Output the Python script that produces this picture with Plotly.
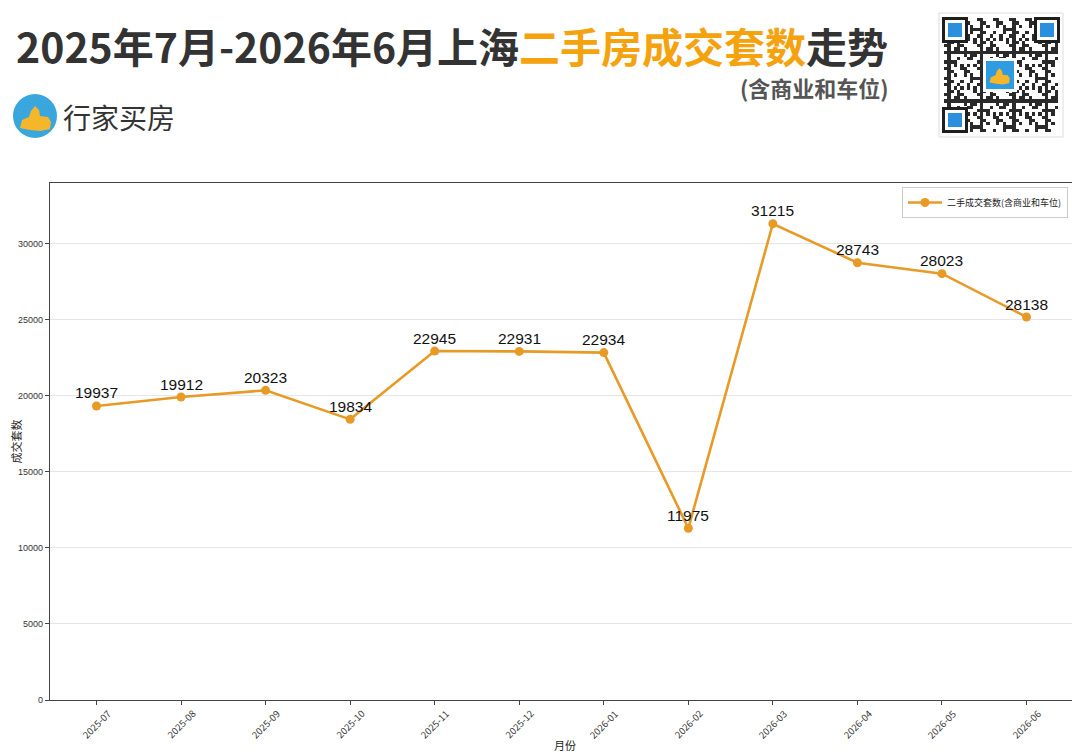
import plotly.graph_objects as go

# page has an 8px body margin: figure is drawn from (8, 8)
OFF = 8
FW, FH = 1072, 746

months = ["2025-07", "2025-08", "2025-09", "2025-10", "2025-11", "2025-12",
          "2026-01", "2026-02", "2026-03", "2026-04", "2026-05", "2026-06"]
values = [19330, 19920, 20360, 18450, 22940, 22920, 22840, 11290, 31310, 28750, 28030, 25180]
labels = ["19937", "19912", "20323", "19834", "22945", "22931", "22934", "11975",
          "31215", "28743", "28023", "28138"]
y_ticks = [0, 5000, 10000, 15000, 20000, 25000, 30000]

series_name = "二手成交套数(含商业和车位)"
LINE = "#E89A26"
CJK = "Noto Sans CJK SC"

# plot area in page pixels (reference coordinates)
PL, PR, PT, PB = 50, 1073, 183, 700


def px(x):
    return (x - OFF) / FW


def py(y):
    return 1 - (y - OFF) / FH


fig = go.Figure()

fig.add_trace(go.Scatter(
    x=list(range(len(months))), y=values,
    mode="lines+markers", name=series_name,
    line=dict(color=LINE, width=2.6),
    marker=dict(color=LINE, size=9),
    xaxis="x", yaxis="y",
))

# decorative QR-like block
n = 35
qr = [[1 if ((i * 7 + j * 11 + i * j * 3 + (i // 3) * (j // 2)) % 5 < 2) else 0 for j in range(n)]
      for i in range(n)]
fig.add_trace(go.Heatmap(
    z=qr, colorscale=[[0, "#ffffff"], [1, "#2a2a2a"]], showscale=False,
    xaxis="x3", yaxis="y3", hoverinfo="skip",
))

fig.update_layout(
    width=FW, height=FH,
    margin=dict(l=0, r=0, t=0, b=0, pad=0),
    paper_bgcolor="white", plot_bgcolor="white",
    showlegend=True,
    legend=dict(x=px(1068), y=py(187), xanchor="right", yanchor="top",
                bgcolor="white", bordercolor="#cccccc", borderwidth=1,
                font=dict(family=CJK, size=9, color="#222"), itemwidth=34),
    xaxis=dict(domain=[px(PL), px(PR)], range=[-0.55, 11.55],
               tickvals=list(range(len(months))), showticklabels=False,
               ticks="outside", ticklen=4, tickcolor="#444",
               showgrid=False, zeroline=False,
               showline=True, linecolor="#444", linewidth=1.3, mirror=True,
               anchor="y", automargin=False),
    yaxis=dict(domain=[py(PB), py(PT)], range=[0, 33990],
               tickvals=y_ticks, tickformat="d",
               tickfont=dict(family="Liberation Sans, Arial", size=9, color="#333"),
               ticks="outside", ticklen=4, tickcolor="#444",
               showgrid=True, gridcolor="#e6e6e6", gridwidth=1, zeroline=False,
               showline=True, linecolor="#444", linewidth=1.3, mirror=True,
               title=dict(text="成交套数", font=dict(family=CJK, size=11, color="#222"), standoff=6),
               anchor="x", automargin=False),
    xaxis3=dict(domain=[px(944), px(1058)], range=[-0.5, n - 0.5], visible=False,
                fixedrange=True, anchor="y3"),
    yaxis3=dict(domain=[py(132), py(18)], range=[n - 0.5, -0.5], visible=False,
                fixedrange=True, anchor="x3"),
)

anns = []
# data labels above the points
for i, (v, t) in enumerate(zip(values, labels)):
    anns.append(dict(x=i, y=v, xref="x", yref="y", text=t, showarrow=False,
                     yshift=13, xanchor="center", yanchor="middle",
                     font=dict(family="Liberation Sans, Arial", size=15.5, color="#111")))
# rotated month tick labels, centred under each tick
for i, m in enumerate(months):
    anns.append(dict(x=i, xref="x", y=py(724), yref="paper", text=m, showarrow=False,
                     textangle=-45, xanchor="center", yanchor="middle",
                     font=dict(family=CJK, size=9.5, color="#333")))
# x-axis title
anns.append(dict(xref="paper", yref="paper", x=px(565), y=py(745), text="月份", showarrow=False,
                 xanchor="center", yanchor="middle", font=dict(family=CJK, size=11, color="#222")))

shapes = []
shapes.append(dict(type="rect", xref="paper", yref="paper", x0=px(939), x1=px(1063), y0=py(137), y1=py(13),
                   line=dict(color="#dddddd", width=1), fillcolor="rgba(0,0,0,0)", layer="above"))
for cx, cy in [(955, 30), (1047, 30), (955, 120)]:
    shapes.append(dict(type="rect", xref="paper", yref="paper", x0=px(cx - 13), x1=px(cx + 13),
                       y0=py(cy + 13), y1=py(cy - 13), fillcolor="#1e1e1e", line=dict(width=0), layer="above"))
    shapes.append(dict(type="rect", xref="paper", yref="paper", x0=px(cx - 10), x1=px(cx + 10),
                       y0=py(cy + 10), y1=py(cy - 10), fillcolor="white", line=dict(width=0), layer="above"))
    shapes.append(dict(type="rect", xref="paper", yref="paper", x0=px(cx - 7), x1=px(cx + 7),
                       y0=py(cy + 7), y1=py(cy - 7), fillcolor="#2a8fdc", line=dict(width=0), layer="above"))
shapes.append(dict(type="rect", xref="paper", yref="paper", x0=px(983), x1=px(1017), y0=py(92), y1=py(58),
                   fillcolor="white", line=dict(width=0), layer="above"))
shapes.append(dict(type="rect", xref="paper", yref="paper", x0=px(986), x1=px(1014), y0=py(89), y1=py(61),
                   fillcolor="#2f9be0", line=dict(width=0), layer="above"))


def blob(cx, cy, s):
    pts = [(-0.8, 0.5), (-0.7, 0.1), (-0.35, -0.05), (-0.25, -0.35), (-0.05, -0.6), (0.15, -0.4),
           (0.2, -0.1), (0.6, -0.05), (0.75, 0.2), (0.7, 0.55), (0.2, 0.65), (-0.3, 0.6)]
    d = "M " + " L ".join(f"{px(cx + a * s)},{py(cy + b * s)}" for a, b in pts) + " Z"
    return dict(type="path", xref="paper", yref="paper", path=d, fillcolor="#F5B62A",
                line=dict(width=0), layer="above")


shapes.append(blob(1000, 76, 13))
shapes.append(dict(type="circle", xref="paper", yref="paper", x0=px(13), x1=px(57), y0=py(138), y1=py(94),
                   fillcolor="#3AA6DE", line=dict(width=0), layer="above"))
shapes.append(blob(36, 118, 20))
fig.update_layout(shapes=shapes)

anns.append(dict(xref="paper", yref="paper", x=px(14), y=py(45), xanchor="left", yanchor="middle",
                 showarrow=False,
                 text="<b>2025年7月-2026年6月上海<span style='color:#F5A20F'>二手房成交套数</span>走势</b>",
                 font=dict(family=CJK, size=41, color="#333333", weight=900)))
anns.append(dict(xref="paper", yref="paper", x=px(891), y=py(87), xanchor="right", yanchor="middle",
                 showarrow=False, text="<b>(含商业和车位)</b>",
                 font=dict(family=CJK, size=22, color="#555555")))
anns.append(dict(xref="paper", yref="paper", x=px(61), y=py(117), xanchor="left", yanchor="middle",
                 showarrow=False, text="行家买房",
                 font=dict(family=CJK, size=28, color="#333333")))
fig.update_layout(annotations=anns)

fig.write_html("out.html")
